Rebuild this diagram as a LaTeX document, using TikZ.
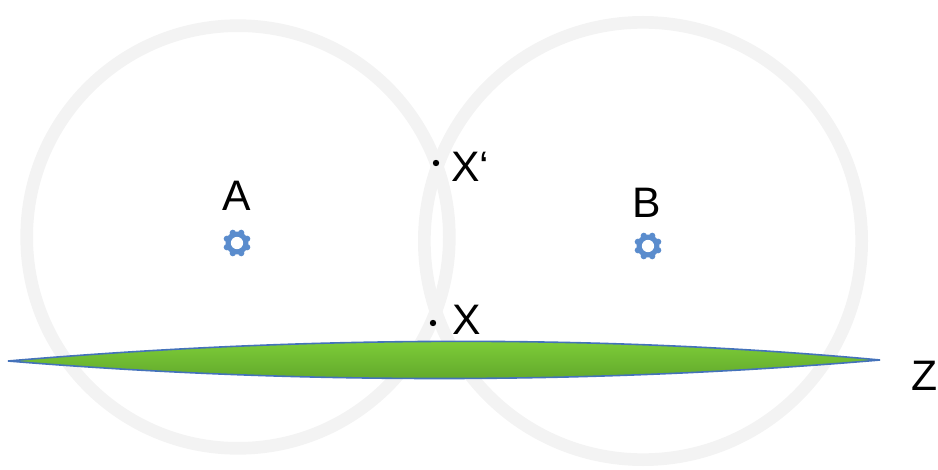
\documentclass[tikz,border=0pt]{standalone}
\usepackage{fontspec}
\setmainfont{Liberation Sans}
\usetikzlibrary{positioning}
\definecolor{ringgray}{RGB}{243,243,243}
\definecolor{lenstop}{RGB}{130,210,58}
\definecolor{lensbot}{RGB}{94,164,42}
\definecolor{lensline}{RGB}{68,114,186}
\definecolor{markblue}{RGB}{90,140,205}

\begin{document}
\begin{tikzpicture}[
  x=0.75pt, y=-0.75pt,
  font=\fontsize{32}{38}\selectfont,
  ring/.style={draw=ringgray, line width=9.5pt},
  lens/.style={top color=lenstop, bottom color=lensbot, draw=lensline, line width=1.2pt},
  lbl/.style={inner sep=0pt},
  dot/.style={fill=black},
]
\useasboundingbox (0,0) rectangle (938,470);

% centres of the two circles and of the markers
\coordinate (ca) at (238,237);
\coordinate (cb) at (643,241);
\coordinate (mA) at (237,243);
\coordinate (mB) at (648,246);

\draw[ring] (ca) circle[radius=158.5pt];
\draw[ring] (cb) circle[radius=164pt];

% the green lens Z
\coordinate (zl) at (8,361);
\coordinate (zr) at (880,360);
\path[lens] (zl) .. controls (300,336) and (600,334) .. (zr)
            .. controls (600,384) and (300,385) .. (zl) -- cycle;

% markers
\foreach \c in {mA,mB} {
  \begin{scope}[shift={(\c)}]
    \fill[markblue] (0,0) circle[radius=8.6pt];
    \foreach \a in {0,45,...,315}
      \fill[markblue] (\a+22.5:8.2pt) circle[radius=2.4pt];
    \fill[white] (0,0) circle[radius=4.6pt];
  \end{scope}
}

% points X and X'
\coordinate (x1) at (436,163);
\coordinate (x0) at (433,323);
\fill[dot] (x1) circle[radius=2.4pt];
\fill[dot] (x0) circle[radius=2.4pt];

\node[lbl, anchor=west] (lx1) at (451,167) {X‘};
\node[lbl, anchor=west] (lx0) at (452,320) {X};
\node[lbl] (la) at (237,196) {A};
\node[lbl] (lb) at (647,203) {B};
\node[lbl, anchor=west] (lz) at (911,376) {Z};
\end{tikzpicture}
\end{document}
